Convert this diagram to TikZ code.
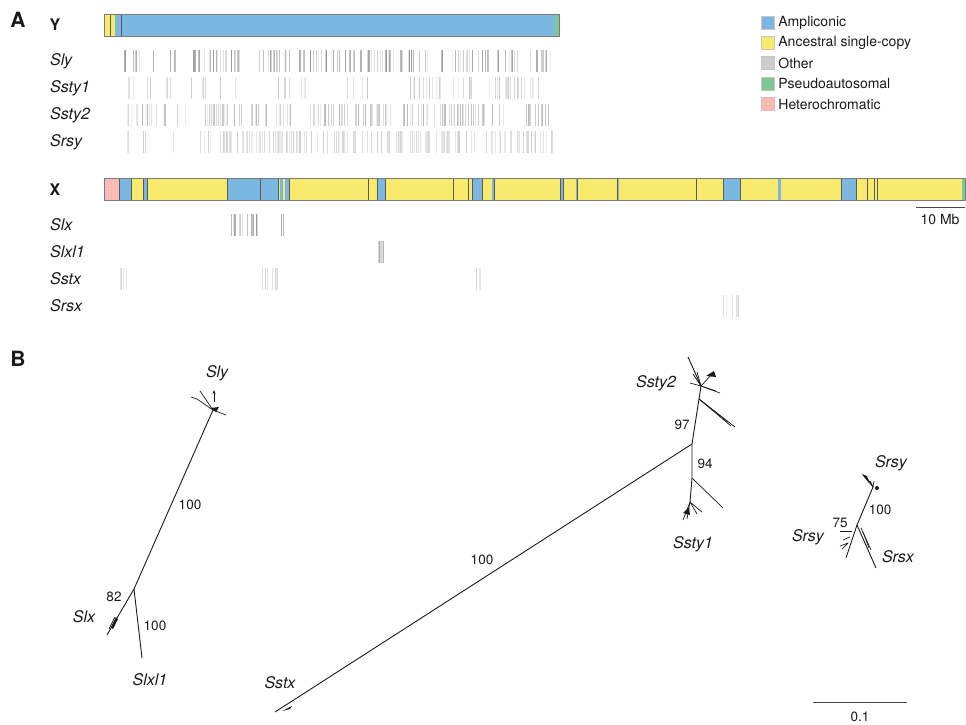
\documentclass[tikz,border=0pt]{standalone}
\usepackage{fontspec}
\setmainfont{TeX Gyre Heros}
\usepackage{tikz}
\definecolor{ink}{HTML}{1A1A1A}
\definecolor{amplicon}{HTML}{7AB8E2}
\definecolor{ancestral}{HTML}{F8EA6C}
\definecolor{otherreg}{HTML}{CCCCCC}
\definecolor{pseudo}{HTML}{80C797}
\definecolor{hetero}{HTML}{F4C7BE}
\definecolor{edge}{HTML}{5A5A5A}
\usetikzlibrary{
  arrows.meta,
  positioning,
  calc,
  patterns
}
\tikzset{
  every picture/.style={line join=round},
  every node/.style={text=ink, inner sep=0pt},
  panel/.style={font=\fontsize{21}{24}\selectfont\bfseries},
  chrom/.style={font=\fontsize{16}{18}\selectfont\bfseries},
  gene/.style={font=\fontsize{16}{18}\selectfont\itshape, anchor=west},
  tiplab/.style={font=\fontsize{16}{18}\selectfont\itshape},
  legtext/.style={font=\fontsize{14}{16}\selectfont, anchor=west},
  legbox/.style={draw=ink!25, line width=0.4pt, minimum size=13pt, inner sep=0pt},
  support/.style={font=\fontsize{13.5}{15}\selectfont},
  seg/.style={draw=edge!80, line width=0.5pt},
  sep/.style={draw=edge, line width=1pt},
  hit/.style={line width=0.6pt},
  branch/.style={draw=ink, line width=0.9pt},
  twig/.style={draw=ink, line width=0.7pt},
  scalebar/.style={draw=ink!80, line width=0.8pt}
}
% one row of gene hits: top y, darkest shade, ranges a/b/count
\newcommand{\hitrow}[3]{%
  \foreach \a/\b/\n in {#3}{
    \foreach \i in {1,...,\n}{
      \pgfmathsetmacro{\hx}{\a+rnd*(\b-\a)}
      \pgfmathtruncatemacro{\hs}{8+rnd*(#2-8)}
      \draw[hit, ink!\hs] (\hx,#1) -- ++(0,22);
    }
  }
}

\begin{document}
\begin{tikzpicture}[x=1pt, y=-1pt]
  \useasboundingbox (0,0) rectangle (966,724);
  \pgfmathsetseed{11}

  % Panel letters
  \node[panel] (pa) at (18,20) {A};
  \node[panel] (pb) at (18,359) {B};

  % Y chromosome
  \node[chrom] (ylab) at (55,25) {Y};
  \foreach \a/\b/\c in {104/110/ancestral, 110/115/ancestral, 115/121/amplicon,
                        121/555/amplicon, 555/559/pseudo}
    \fill[\c] (\a,14) rectangle (\b,36);
  \foreach \s in {110,121} \draw[sep] (\s,14) -- (\s,36);
  \draw[seg] (104,14) rectangle (559,36);

  % Y gene families
  \node[gene] (gsly) at (50,61) {Sly};
  \node[gene] (gssty1) at (50,88) {Ssty1};
  \node[gene] (gssty2) at (50,115) {Ssty2};
  \node[gene] (gsrsy) at (50,142) {Srsy};
  \hitrow{50}{46}{124/126/2, 133/143/5, 153/153/1, 169/177/4, 193/330/60, 330/428/42,
                  437/445/4, 452/490/16, 496/518/9, 530/553/11}
  \hitrow{77}{24}{128/133/3, 147/153/3, 166/171/3, 190/193/2, 202/208/3, 220/220/1,
                  235/238/2, 277/290/6, 300/307/3, 347/353/2, 362/368/3, 410/443/12,
                  450/473/9, 487/547/24}
  \hitrow{104}{32}{127/157/14, 162/167/2, 177/177/1, 185/185/1, 200/243/18, 250/293/18,
                   310/330/9, 330/392/28, 402/550/62}
  \hitrow{131}{22}{126/128/2, 143/147/2, 173/173/1, 197/330/60, 330/555/95}

  % X chromosome
  \node[chrom] (xlab) at (55,190) {X};
  \fill[hetero] (104,178) rectangle (119,200);
  \fill[pattern=crosshatch, pattern color=red!30] (104,178) rectangle (119,200);
  \foreach \a/\b/\c in {119/131/amplicon, 131/143/ancestral, 143/147/amplicon,
                        147/227/ancestral, 227/278/amplicon, 278/280/ancestral,
                        280/283/amplicon, 283/285/ancestral, 285/289/amplicon,
                        289/377/ancestral, 377/385/amplicon, 385/472/ancestral,
                        472/482/amplicon, 482/492/ancestral, 492/494/amplicon,
                        494/560/ancestral, 560/563/amplicon, 563/576/ancestral,
                        576/577/amplicon, 577/617/ancestral, 617/619/amplicon,
                        619/723/ancestral, 723/740/amplicon, 740/778/ancestral,
                        778/781/amplicon, 781/841/ancestral, 841/856/amplicon,
                        856/962/ancestral, 962/965/pseudo}
    \fill[\c] (\a,178) rectangle (\b,200);
  \foreach \s in {119,131,143,147,227,260.5,278,289,368,377,385,453,468,472,482,494,
                  560,563,577,617,696,723,740,841,856,867,874,877}
    \draw[sep, line width=0.7pt] (\s,178) -- (\s,200);
  \draw[seg] (104,178) rectangle (965,200);

  % X gene families
  \node[gene] (gslx) at (50,225) {Slx};
  \node[gene] (gslxl1) at (50,252) {Slxl1};
  \node[gene] (gsstx) at (50,279) {Sstx};
  \node[gene] (gsrsx) at (50,306) {Srsx};
  \hitrow{214}{48}{227/260/16, 281/283/2}
  \hitrow{241}{35}{377/384/14}
  \hitrow{268}{18}{120/129/4, 262/277/8, 473/482/4}
  \hitrow{295}{20}{723/739/10}

  % Scale bar (Mb)
  \coordinate (mba) at (916,207);
  \coordinate (mbb) at (965,207);
  \draw[scalebar] (mba) -- (mbb);
  \node[legtext, anchor=center] (mbt) at (940,219) {10 Mb};

  % Legend
  \node[legbox, fill=amplicon] (kamp) at (768,23) {};
  \node[legtext, right=3.5pt of kamp] (tamp) {Ampliconic};
  \node[legbox, fill=ancestral] (kanc) at (768,43) {};
  \node[legtext, right=3.5pt of kanc] (tanc) {Ancestral single-copy};
  \node[legbox, fill=otherreg] (koth) at (768,63) {};
  \node[legtext, right=3.5pt of koth] (toth) {Other};
  \node[legbox, fill=pseudo] (kpar) at (768,83.5) {};
  \node[legtext, right=3.5pt of kpar] (tpar) {Pseudoautosomal};
  \node[legbox, fill=hetero] (khet) at (768,104) {};
  \fill[pattern=crosshatch, pattern color=red!30] (khet.south west) rectangle (khet.north east);
  \node[legtext, right=3.5pt of khet] (thet) {Heterochromatic};

  % Tree: Sly / Slx / Slxl1
  \coordinate (slyhub) at (213,410);
  \coordinate (j1) at (134,589);
  \coordinate (slxtip) at (107,635);
  \coordinate (slxltip) at (142,658);
  \draw[branch] (slyhub) -- (j1) -- (slxtip);
  \draw[branch] (j1) -- (slxltip);
  \draw[twig] (slyhub) -- (197,399) -- (191,397);
  \draw[twig] (slyhub) -- (200,391);
  \draw[twig] (slyhub) -- (226,415);
  \draw[twig, -{Stealth[length=4pt,width=3pt]}] (214,402) -- (214,390);
  \fill[ink] (210,408) -- (219,407) -- (216,412) -- cycle;
  \fill[ink] (111,627) -- (116,617) -- (118,619) -- (113,629) -- cycle;
  \draw[twig] (109,629) -- (115,617);
  \node[tiplab] (lsly) at (217,373) {Sly};
  \node[support] (s1) at (190,505) {100};
  \node[support] (s2) at (114,597) {82};
  \node[tiplab] (lslx) at (84,617) {Slx};
  \node[support] (s3) at (155,626) {100};
  \node[tiplab] (lslxl1) at (150,680) {Slxl1};

  % Tree: Sstx / Ssty1 / Ssty2
  \coordinate (sstxtip) at (275,712);
  \coordinate (j2) at (692,444);
  \coordinate (j3) at (701,386);
  \coordinate (jside) at (699,399);
  \coordinate (j4) at (692,478);
  \coordinate (ssty1hub) at (690,502);
  \draw[branch] (sstxtip) -- (j2) -- (j3);
  \draw[branch] (j3) -- (688,357);
  \draw[twig] (j3) -- (690,383);
  \draw[twig] (j3) -- (693,374);
  \draw[twig] (j3) -- (697,372);
  \draw[twig] (j3) -- (713,373);
  \draw[twig] (j3) -- (720,393);
  \draw[twig] (j3) -- (716,391);
  \fill[ink] (706,376) -- (714,371) -- (716,377) -- cycle;
  \draw[twig] (jside) -- (735,427);
  \draw[twig] (jside) -- (731,426);
  \draw[twig] (jside) -- (728,422);
  \draw[branch] (j2) -- (j4) -- (ssty1hub);
  \draw[twig] (j4) -- (723,508);
  \draw[twig] (ssty1hub) -- (683,520);
  \draw[twig] (ssty1hub) -- (687,519);
  \draw[twig] (ssty1hub) -- (702,512);
  \draw[twig] (ssty1hub) -- (697,514);
  \fill[ink] (683,513) -- (689,507) -- (690,515) -- cycle;
  \fill[ink] (282,711) -- (292,706) -- (290,709) -- cycle;
  \node[tiplab] (lsstx) at (280,683) {Sstx};
  \node[support] (s4) at (482,560) {100};
  \node[tiplab] (lssty2) at (656,383) {Ssty2};
  \node[support] (s5) at (682,425) {97};
  \node[support] (s6) at (705,464) {94};
  \node[tiplab] (lssty1) at (693,544) {Ssty1};

  % Tree: Srsy / Srsx
  \coordinate (srsyhub) at (873,487);
  \coordinate (j5) at (857,525);
  \coordinate (srsxtip) at (876,568);
  \coordinate (srsyltip) at (846,558);
  \draw[branch] (srsyhub) -- (j5) -- (srsxtip);
  \draw[branch] (j5) -- (srsyltip);
  \draw[twig] (srsyhub) -- (863,475);
  \draw[twig] (srsyhub) -- (867,478);
  \draw[twig] (srsyhub) -- (870,481);
  \draw[twig] (srsyhub) -- (874,481);
  \fill[ink] (877,488) circle (2pt);
  \fill[ink] (862,474) -- (867,476) -- (869,483) -- cycle;
  \draw[twig] (861,528) -- (871,550);
  \draw[twig] (863,532) -- (869,548);
  \draw[twig] (840,531) -- (852,531);
  \draw[twig] (843,540) -- (850,537);
  \draw[twig] (840,546) -- (848,543) -- (842,549);
  \node[tiplab] (lsrsy) at (891,463) {Srsy};
  \node[support] (s7) at (880,510) {100};
  \node[support] (s8) at (840,523) {75};
  \node[tiplab] (lsrsyl) at (808,537) {Srsy};
  \node[tiplab] (lsrsx) at (898,557) {Srsx};

  % Scale bar (substitutions)
  \coordinate (sba) at (813,702);
  \coordinate (sbb) at (907,702);
  \draw[scalebar] (sba) -- (sbb);
  \node[support] (sbt) at (860,717) {0.1};
\end{tikzpicture}
\end{document}
